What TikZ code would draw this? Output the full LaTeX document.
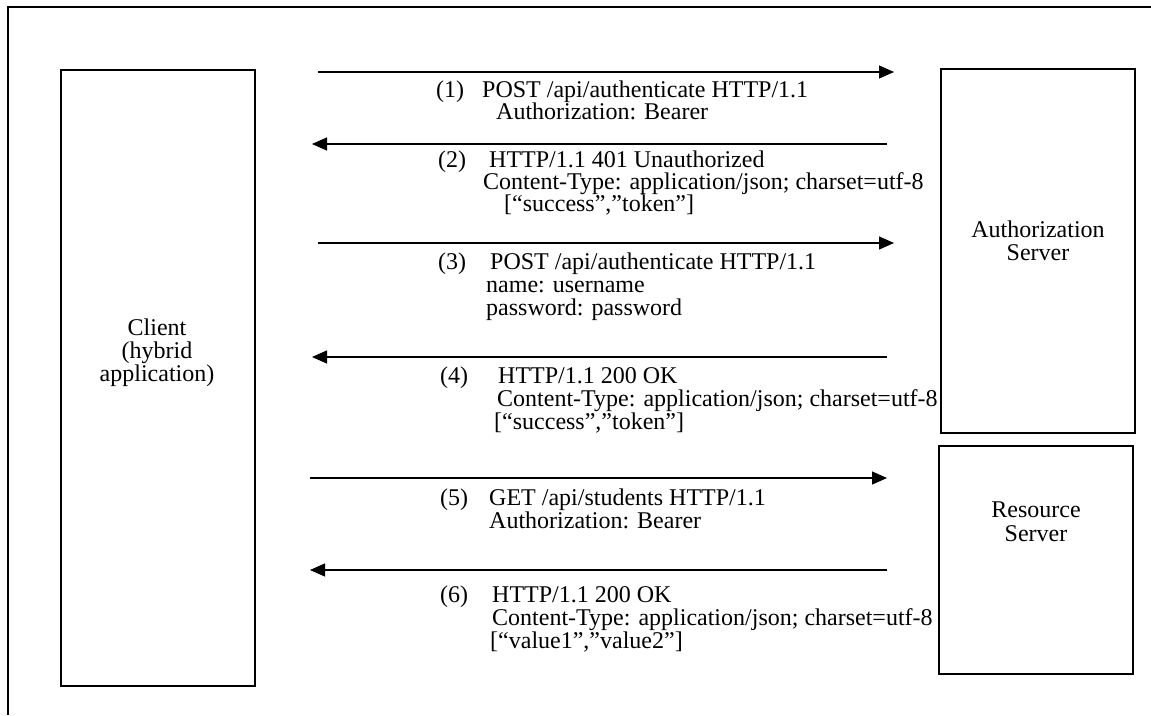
\documentclass[tikz,border=0pt]{standalone}
\usepackage{fontspec}
\setmainfont{Liberation Serif}
\usetikzlibrary{arrows.meta}

\begin{document}
\begin{tikzpicture}[x=1pt,y=-1pt,
  box/.style={draw,line width=2pt,inner sep=0pt},
  msg/.style={line width=1.2pt,-{Triangle[length=15pt,width=13pt]}},
  txt/.style={anchor=base west,inner sep=0pt,font=\fontsize{24}{23}\selectfont},
  ctxt/.style={anchor=base,inner sep=0pt,font=\fontsize{24}{23}\selectfont}]

\useasboundingbox (0,0) rectangle (1151,715);

% outer frame (open at right and bottom)
\draw[line width=2pt] (8,715) -- (8,7) -- (1151,7);

% participants
\node[box,minimum width=194pt,minimum height=616pt] (client) at (158,378) {};
\node[box,minimum width=194pt,minimum height=364pt] (auth) at (1038,251) {};
\node[box,minimum width=194pt,minimum height=228pt] (res) at (1036,560) {};

\node[ctxt] (c1) at (157,335) {Client};
\node[ctxt] (c2) at (157,358) {(hybrid};
\node[ctxt] (c3) at (157,381) {application)};
\node[ctxt] (a1) at (1038,237) {Authorization};
\node[ctxt] (a2) at (1038,260) {Server};
\node[ctxt] (r1) at (1036,517) {Resource};
\node[ctxt] (r2) at (1036,541) {Server};

% arrow end points
\coordinate (s1) at (318,72);  \coordinate (e1) at (894,72);
\coordinate (s2) at (887,144); \coordinate (e2) at (312,144);
\coordinate (s3) at (318,243); \coordinate (e3) at (894,243);
\coordinate (s4) at (887,357); \coordinate (e4) at (312,357);
\coordinate (s5) at (310,478); \coordinate (e5) at (887,478);
\coordinate (s6) at (887,570); \coordinate (e6) at (310,570);

\foreach \i in {1,...,6} \draw[msg] (s\i) -- (e\i);

% (1)
\node[txt] (n1) at (436,97) {(1)};
\node[txt] (l1a) at (482,97) {POST /api/authenticate HTTP/1.1};
\node[txt] (l1b) at (496,119) {Authorization: Bearer};
% (2)
\node[txt] (n2) at (438,167) {(2)};
\node[txt] (l2a) at (489,167) {HTTP/1.1 401 Unauthorized};
\node[txt] (l2b) at (483,189) {Content-Type: application/json; charset=utf-8};
\node[txt] (l2c) at (504,211) {[“success”,”token”]};
% (3)
\node[txt] (n3) at (438,269) {(3)};
\node[txt] (l3a) at (490,269) {POST /api/authenticate HTTP/1.1};
\node[txt] (l3b) at (486,292) {name: username};
\node[txt] (l3c) at (486,315) {password: password};
% (4)
\node[txt] (n4) at (440,383) {(4)};
\node[txt] (l4a) at (498,383) {HTTP/1.1 200 OK};
\node[txt] (l4b) at (497,406) {Content-Type: application/json; charset=utf-8};
\node[txt] (l4c) at (494,429) {[“success”,”token”]};
% (5)
\node[txt] (n5) at (440,505) {(5)};
\node[txt] (l5a) at (489,505) {GET /api/students HTTP/1.1};
\node[txt] (l5b) at (489,528) {Authorization: Bearer};
% (6)
\node[txt] (n6) at (440,602) {(6)};
\node[txt] (l6a) at (492,602) {HTTP/1.1 200 OK};
\node[txt] (l6b) at (492,625) {Content-Type: application/json; charset=utf-8};
\node[txt] (l6c) at (490,648) {[“value1”,”value2”]};

\end{tikzpicture}
\end{document}
